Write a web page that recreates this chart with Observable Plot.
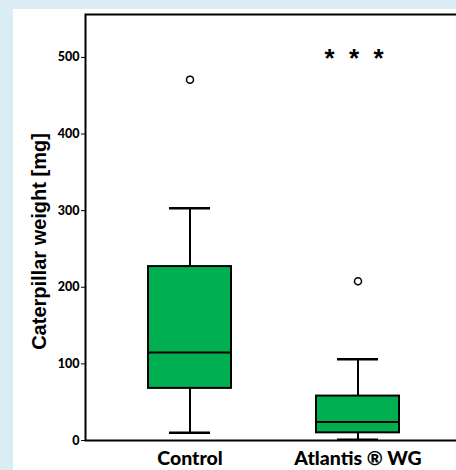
<!DOCTYPE html>
<html>
<head>
<meta charset="utf-8">
<script src="https://cdn.jsdelivr.net/npm/d3@7"></script>
<script src="https://cdn.jsdelivr.net/npm/@observablehq/plot@0.6"></script>
<style>
  html, body { margin: 0; padding: 0; width: 456px; height: 470px; overflow: hidden; background: #daedf4; }
  #panel { position: absolute; left: 13px; top: 9px; width: 443px; height: 461px; background: #fff; }
  #chart { position: absolute; left: 0; top: 0; width: 470px; }
  #chart svg { font-weight: bold; overflow: visible; max-width: none !important; width: 470px; height: 470px; }
  #chart g[aria-label="x-axis tick label"] text, #chart g[aria-label="x-axis"] text { font-size: 19.5px; font-family: Lato, "Open Sans", sans-serif; font-weight: 900; }
  #chart g[aria-label="y-axis tick label"] text, #chart g[aria-label="y-axis"] text { font-size: 12.5px; font-family: Lato, "Open Sans", sans-serif; font-weight: 900; }
</style>
</head>
<body>
<div id="panel"></div>
<div id="chart"></div>
<script>
const categories = ["Control", "Atlantis \u00AE WG"];
const whiskerLow = [10, 1];
const q1 = [68, 10];
const median = [115, 24];
const q3 = [227, 58];
const whiskerHigh = [303, 106];
const outlierValues = [471, 208];
const significance = ["", "*\u00a0\u00a0*\u00a0\u00a0*"];
const significanceY = 506;
const yTicks = [0, 100, 200, 300, 400, 500];
const yLabel = "Caterpillar weight [mg]";

const rows = categories.map((c, i) => ({cat: c, lo: whiskerLow[i], q1: q1[i], med: median[i], q3: q3[i], hi: whiskerHigh[i]}));
const outliers = categories.map((c, i) => ({cat: c, v: outlierValues[i]}));
const sig = categories.map((c, i) => ({cat: c, t: significance[i], v: significanceY})).filter(d => d.t);

const green = "#00b050";
const plot = Plot.plot({
  width: 470,
  height: 470,
  marginLeft: 85,
  marginRight: 9,
  marginTop: 14,
  marginBottom: 30,
  style: {background: "transparent", fontFamily: "Lato, 'Open Sans', sans-serif", fontWeight: "bold", maxWidth: "none"},
  x: {domain: categories, paddingInner: 0.506, paddingOuter: 0.372, tickSize: 0, tickPadding: 11, label: null},
  y: {domain: [0, 556], ticks: yTicks, tickSize: 4, tickPadding: 2, label: null, tickFormat: d => String(d)},
  marks: [
    Plot.ruleX(rows, {x: "cat", y1: "lo", y2: "q1", stroke: "black", strokeWidth: 2}),
    Plot.ruleX(rows, {x: "cat", y1: "q3", y2: "hi", stroke: "black", strokeWidth: 2}),
    Plot.tickY(rows, {x: "cat", y: "lo", stroke: "black", strokeWidth: 2.5, insetLeft: 21, insetRight: 21}),
    Plot.tickY(rows, {x: "cat", y: "hi", stroke: "black", strokeWidth: 2.5, insetLeft: 21, insetRight: 21}),
    Plot.barY(rows, {x: "cat", y1: "q1", y2: "q3", fill: green, stroke: "black", strokeWidth: 2}),
    Plot.tickY(rows, {x: "cat", y: "med", stroke: "black", strokeWidth: 2}),
    Plot.dot(outliers, {x: "cat", y: "v", r: 3.5, fill: "white", stroke: "black", strokeWidth: 1.5}),
    Plot.text(sig, {x: "cat", y: "v", text: "t", fontSize: 26, fontWeight: "bold", fontFamily: "Liberation Sans, Arial, sans-serif", dx: -4, dy: 6}),
    Plot.text([yLabel], {frameAnchor: "left", text: d => d, rotate: -90, dx: -46, dy: 14, fontSize: 20, fontWeight: "bold", fontFamily: "Liberation Sans, Arial, sans-serif", textAnchor: "middle"}),
    Plot.frame({stroke: "black", strokeWidth: 2})
  ]
});
document.getElementById("chart").appendChild(plot);
</script>
</body>
</html>
